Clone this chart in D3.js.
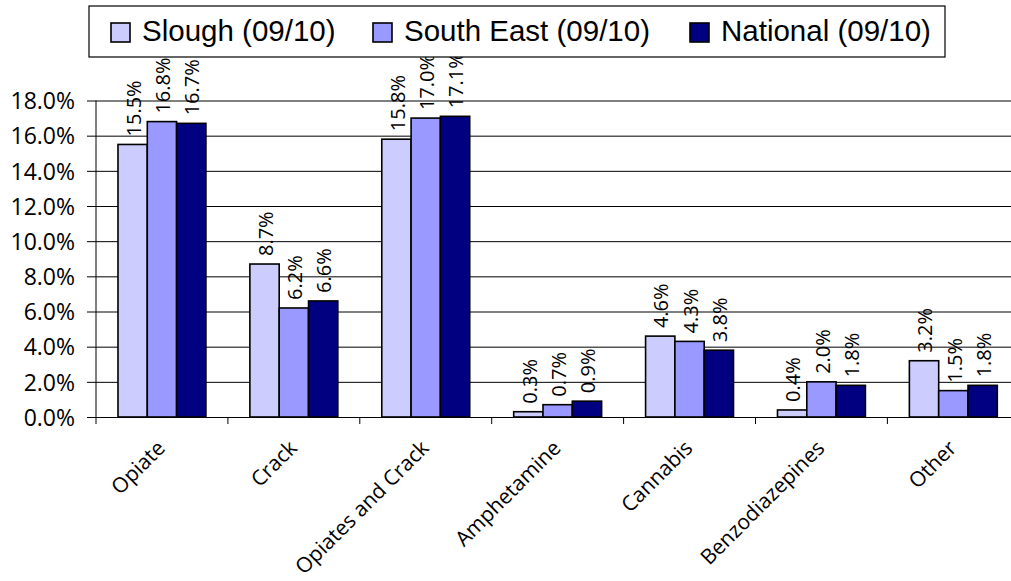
<!DOCTYPE html>
<html>
<head>
<meta charset="utf-8">
<script src="https://cdn.jsdelivr.net/npm/d3@7"></script>
<style>
  html, body { margin: 0; padding: 0; background: #fff; }
  svg { display: block; }
</style>
</head>
<body>
<svg id="chart" width="1011" height="581"></svg>
<script>
// Treatment population by primary drug, 2009/10
const categories = ["Opiate", "Crack", "Opiates and Crack", "Amphetamine", "Cannabis", "Benzodiazepines", "Other"];
const seriesNames = ["Slough (09/10)", "South East (09/10)", "National (09/10)"];
const slough    = [15.5, 8.7, 15.8, 0.3, 4.6, 0.4, 3.2];
const southEast = [16.8, 6.2, 17.0, 0.7, 4.3, 2.0, 1.5];
const national  = [16.7, 6.6, 17.1, 0.9, 3.8, 1.8, 1.8];
const yTicks = [0, 2, 4, 6, 8, 10, 12, 14, 16, 18];
const colors = ["#CCCCFF", "#9999FF", "#000080"];

const seriesValues = [slough, southEast, national];
const rows = categories.map((c, i) => ({
  category: c,
  values: seriesNames.map((s, j) => ({ series: s, index: j, value: seriesValues[j][i] }))
}));

const svg = d3.select("#chart");
const fontFamily = "'Open Sans', 'DejaVu Sans', sans-serif";

const plot = { left: 96, top: 100.5, bottom: 417, step: 131.9 };

const x = d3.scaleBand()
  .domain(categories)
  .range([plot.left, plot.left + plot.step * categories.length])
  .padding(0);

const xInner = d3.scaleBand()
  .domain(seriesNames)
  .range([0, x.bandwidth()])
  .paddingInner(0)
  .paddingOuter(0.75);

const y = d3.scaleLinear().domain([0, 18]).range([plot.bottom, plot.top]);

// horizontal gridlines with short ticks to the left of the axis
const gy = svg.append("g").attr("transform", `translate(${plot.left},0)`)
  .call(d3.axisLeft(y)
    .tickValues(yTicks)
    .tickSize(9)
    .tickPadding(12)
    .tickFormat(d => d3.format(".1f")(d) + "%"));
gy.select(".domain").remove();
gy.selectAll(".tick line").attr("stroke", "#000").attr("stroke-width", 1);
gy.selectAll(".tick").append("line")
  .attr("x1", 0).attr("x2", 1011 - plot.left)
  .attr("stroke", "#000").attr("stroke-width", 1);
gy.selectAll(".tick text")
  .attr("font-family", fontFamily)
  .attr("font-size", 23)
  .attr("dy", "0.36em")
  .attr("fill", "#000");

// vertical axis line
svg.append("line")
  .attr("x1", plot.left).attr("x2", plot.left)
  .attr("y1", plot.top).attr("y2", plot.bottom)
  .attr("stroke", "#000").attr("stroke-width", 1);

// category axis: ticks between groups
const xEdges = categories.map(c => x(c)).concat([x(categories[categories.length - 1]) + x.bandwidth()]);
svg.append("g").selectAll("line").data(xEdges).join("line")
  .attr("x1", d => d).attr("x2", d => d)
  .attr("y1", plot.bottom).attr("y2", plot.bottom + 7)
  .attr("stroke", "#000").attr("stroke-width", 1);

// bars
const groups = svg.append("g").selectAll("g").data(rows).join("g")
  .attr("transform", d => `translate(${x(d.category)},0)`);

groups.selectAll("rect").data(d => d.values).join("rect")
  .attr("x", d => xInner(d.series))
  .attr("width", xInner.bandwidth())
  .attr("y", d => y(d.value))
  .attr("height", d => y(0) - y(d.value))
  .attr("fill", d => colors[d.index])
  .attr("stroke", "#000")
  .attr("stroke-width", 1.6);

// value labels, rotated
groups.selectAll("text").data(d => d.values).join("text")
  .attr("transform", d => `translate(${xInner(d.series) + xInner.bandwidth() / 2 + 1},${y(d.value) - 8}) rotate(-90)`)
  .attr("dy", "0.36em")
  .attr("text-anchor", "start")
  .attr("font-family", fontFamily)
  .attr("font-size", 20)
  .attr("fill", "#000")
  .text(d => d3.format(".1f")(d.value) + "%");

// category labels at 45 degrees
svg.append("g").selectAll("text").data(categories).join("text")
  .attr("transform", d => `translate(${x(d) + x.bandwidth() / 2 - 6},${plot.bottom + 22}) rotate(-45)`)
  .attr("text-anchor", "end")
  .attr("dy", "0.7em")
  .attr("font-family", fontFamily)
  .attr("font-size", 21)
  .attr("fill", "#000")
  .text(d => d);

// legend
const legend = svg.append("g");
legend.append("rect")
  .attr("x", 89).attr("y", 6).attr("width", 856).attr("height", 51)
  .attr("fill", "#fff").attr("stroke", "#000").attr("stroke-width", 1.2);

const legendX = [111, 373, 690];
const items = legend.selectAll("g.item").data(seriesNames).join("g")
  .attr("class", "item")
  .attr("transform", (d, i) => `translate(${legendX[i]},0)`);
items.append("rect")
  .attr("x", 0).attr("y", 23).attr("width", 19).attr("height", 19)
  .attr("fill", (d, i) => colors[i])
  .attr("stroke", "#000").attr("stroke-width", 1.6);
items.append("text")
  .attr("x", 31).attr("y", 41)
  .attr("font-family", "'Liberation Sans', Arial, sans-serif")
  .attr("font-size", 29.5)
  .attr("fill", "#000")
  .text(d => d);
</script>
</body>
</html>
